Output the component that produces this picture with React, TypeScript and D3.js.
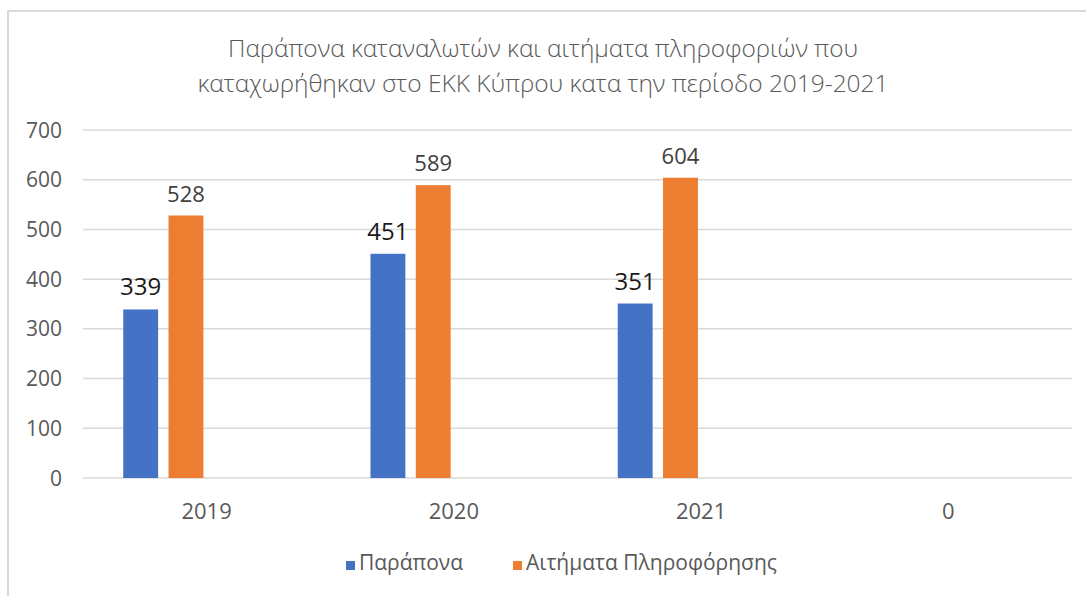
import React from "react";
import * as d3 from "d3";

const categories = ["2019", "2020", "2021", "0"];
const seriesNames = ["Παράπονα", "Αιτήματα Πληροφόρησης"];
const complaints = [339, 451, 351, null];
const infoRequests = [528, 589, 604, null];
const yTicks = [0, 100, 200, 300, 400, 500, 600, 700];
const titleLines = [
  "Παράπονα καταναλωτών και αιτήματα πληροφοριών που",
  "καταχωρήθηκαν στο ΕΚΚ Κύπρου κατα την περίοδο 2019-2021",
];

// the source chart reserves 4 bar slots per category, only 2 are filled
const slotKeys = ["s0", "s1", "s2", "s3"];

const W = 1086;
const H = 596;
const FONT = "'Open Sans', 'Noto Sans', sans-serif";

export default function App() {
  const x0 = d3.scaleBand<string>().domain(categories).range([83, 1072]);
  const x1 = d3
    .scaleBand<string>()
    .domain(slotKeys)
    .range([4, x0.bandwidth()])
    .paddingInner(0.23)
    .paddingOuter(0.8);
  const y = d3.scaleLinear().domain([0, 700]).range([478, 130]);

  const series = [
    { name: seriesNames[0], values: complaints, color: "#4472C4", labelColor: "#1a1a1a", labelSize: 24, slot: "s0", lx: 346 },
    { name: seriesNames[1], values: infoRequests, color: "#ED7D31", labelColor: "#404040", labelSize: 22, slot: "s1", lx: 513 },
  ];

  return (
    <div style={{ position: "absolute", left: 0, top: 0 }}>
      <svg width={W} height={H} style={{ display: "block", background: "#fff" }}>
        {/* chart border */}
        <rect x={8} y={11} width={W + 10} height={H + 10} fill="none" stroke="#d9d9d9" strokeWidth={2} />

        {/* title */}
        {titleLines.map((t, i) => (
          <text
            key={i}
            x={543}
            y={57 + i * 35}
            textAnchor="middle"
            fontFamily={FONT}
            fontSize={24}
            fontWeight={300}
            fill="#595959"
            textLength={i === 0 ? 630 : 691}
            lengthAdjust="spacingAndGlyphs"
          >
            {t}
          </text>
        ))}

        {/* gridlines and y ticks */}
        {yTicks.map((t) => (
          <g key={t}>
            <line x1={83} x2={1072} y1={y(t)} y2={y(t)} stroke="#d9d9d9" strokeWidth={1.5} />
            <text
              x={62}
              y={y(t)}
              dy="0.36em"
              textAnchor="end"
              fontFamily={FONT}
              fontSize={21}
              fill="#595959"
            >
              {t}
            </text>
          </g>
        ))}

        {/* bars */}
        {series.map((s) =>
          categories.map((c, i) => {
            const v = s.values[i];
            if (v == null) return null;
            const bx = (x0(c) ?? 0) + (x1(s.slot) ?? 0);
            const bw = x1.bandwidth();
            return (
              <g key={s.name + c}>
                <rect x={bx} y={y(v)} width={bw} height={y(0) - y(v)} fill={s.color} />
                <text
                  x={bx + bw / 2}
                  y={y(v) - 14}
                  textAnchor="middle"
                  fontFamily={FONT}
                  fontSize={s.labelSize}
                  fill={s.labelColor}
                >
                  {v}
                </text>
              </g>
            );
          })
        )}

        {/* x labels */}
        {categories.map((c) => (
          <text
            key={c}
            x={(x0(c) ?? 0) + x0.bandwidth() / 2}
            y={519}
            textAnchor="middle"
            fontFamily={FONT}
            fontSize={22}
            fill="#595959"
          >
            {c}
          </text>
        ))}

        {/* legend */}
        {series.map((s) => (
          <g key={s.name}>
            <rect x={s.lx} y={561} width={9} height={9} fill={s.color} />
            <text x={s.lx + 13} y={570} fontFamily={FONT} fontSize={21} fill="#595959">
              {s.name}
            </text>
          </g>
        ))}
      </svg>
    </div>
  );
}
